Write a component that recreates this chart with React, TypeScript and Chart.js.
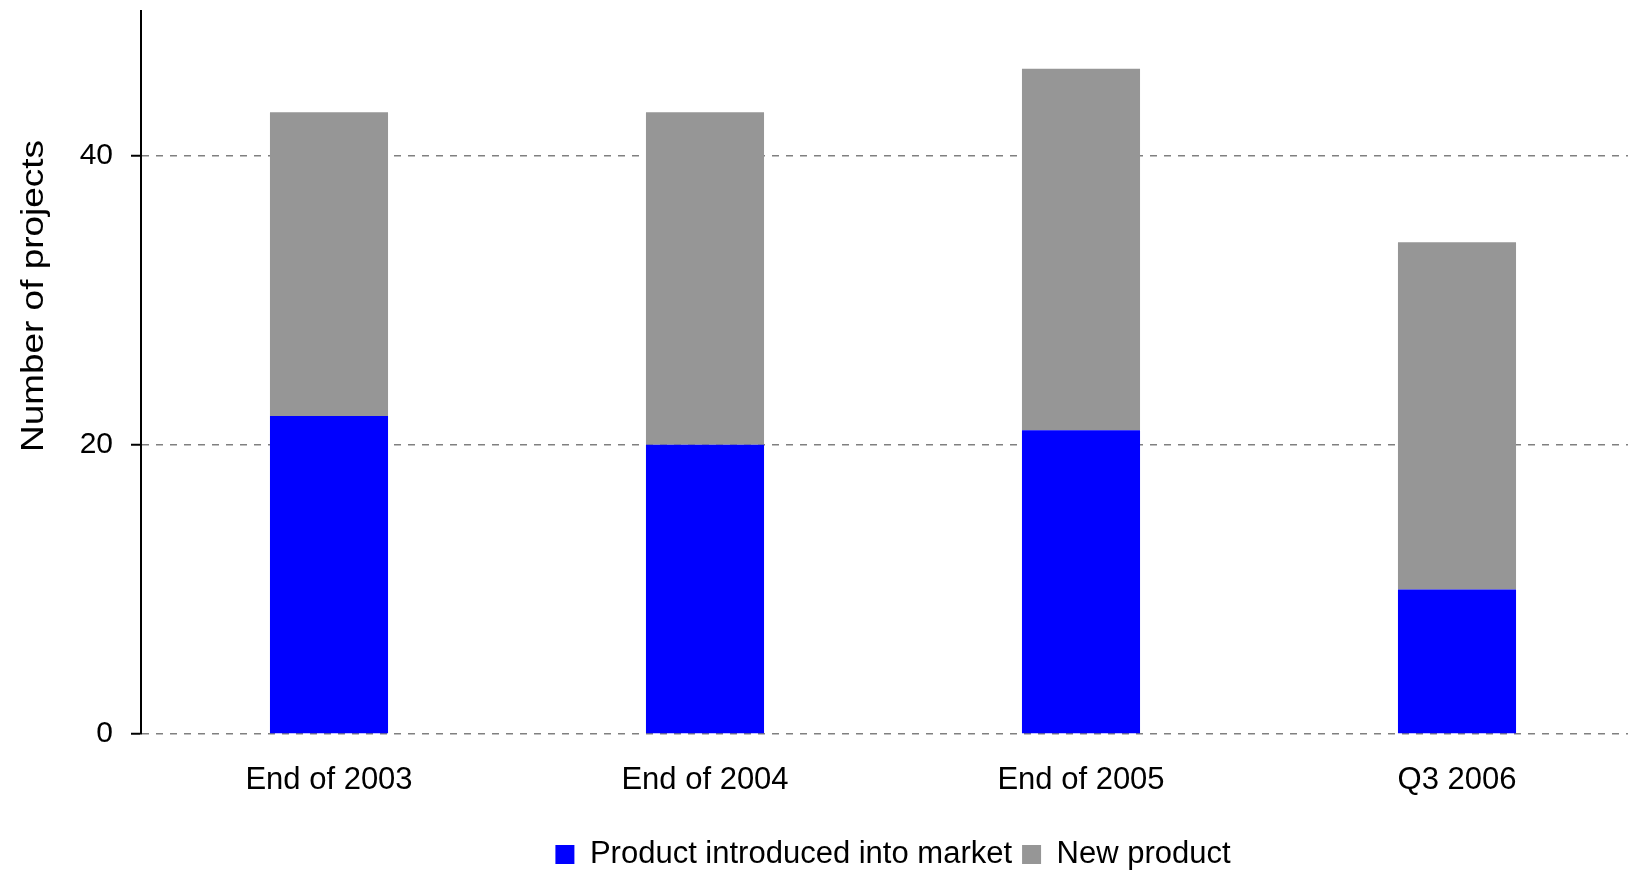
import React, { useEffect, useRef } from "react";
import { Chart, registerables } from "chart.js";

Chart.register(...registerables);

const categories = ["End of 2003", "End of 2004", "End of 2005", "Q3 2006"];
const introducedValues = [22, 20, 21, 10];
const newProductValues = [21, 23, 25, 24];
const yTickValues = [0, 20, 40];
const yAxisTitle = "Number of projects";
const seriesNames = ["Product introduced into market", "New product"];

const FONT = "'Liberation Sans', Arial, Helvetica, sans-serif";

const yTitlePlugin = {
  id: "yTitlePlugin",
  afterDraw(chart: any) {
    const ctx = chart.ctx;
    ctx.save();
    ctx.font = `32px ${FONT}`;
    const w = ctx.measureText(yAxisTitle).width;
    const sx = 312 / w;
    ctx.translate(43, 296);
    ctx.rotate(-Math.PI / 2);
    ctx.scale(sx, 1);
    ctx.fillStyle = "#000";
    ctx.textAlign = "center";
    ctx.textBaseline = "alphabetic";
    ctx.fillText(yAxisTitle, 0, 0);
    ctx.restore();
  },
};

export default function App() {
  const ref = useRef<HTMLCanvasElement | null>(null);

  useEffect(() => {
    document.body.style.margin = "0";
    document.body.style.overflow = "hidden";
    const canvas = ref.current;
    if (!canvas) return;
    const chart = new Chart(canvas, {
      type: "bar",
      data: {
        labels: categories,
        datasets: [
          {
            label: seriesNames[0],
            data: introducedValues,
            backgroundColor: "#0000FF",
            borderWidth: 0,
          },
          {
            label: seriesNames[1],
            data: newProductValues,
            backgroundColor: "#969696",
            borderWidth: 0,
          },
        ],
      },
      options: {
        animation: false,
        responsive: false,
        maintainAspectRatio: false,
        layout: { padding: { top: 11, right: 0, bottom: 0, left: 0 } },
        datasets: {
          bar: { barPercentage: 0.314, categoryPercentage: 1 },
        },
        scales: {
          x: {
            stacked: true,
            grid: { display: false, drawTicks: false },
            border: { display: false },
            ticks: {
              color: "#000",
              padding: 28,
              font: { family: FONT, size: 31 },
              maxRotation: 0,
            },
            afterFit: (scale: any) => {
              scale.height = 95;
              scale.paddingLeft = 0;
              scale.paddingRight = 0;
            },
          },
          y: {
            stacked: true,
            min: 0,
            max: 50,
            afterBuildTicks: (scale: any) => {
              scale.ticks = yTickValues.map((v) => ({ value: v }));
            },
            grid: {
              color: "#808080",
              lineWidth: 1.5,
              tickColor: "#000",
              tickLength: 10,
              tickWidth: 2,
            },
            border: { display: true, color: "#000", width: 2, dash: [7, 7] },
            ticks: {
              color: "#000",
              padding: 18,
              font: { family: FONT, size: 30 },
            },
            afterFit: (scale: any) => {
              scale.width = 141;
              scale.paddingTop = 0;
              scale.paddingBottom = 0;
            },
          },
        },
        plugins: {
          legend: {
            position: "bottom",
            fullSize: false,
            labels: {
              color: "#000",
              boxWidth: 19,
              boxHeight: 19,
              padding: 10,
              font: { family: FONT, size: 31 },
            },
          },
          tooltip: { enabled: false },
        },
      },
      plugins: [yTitlePlugin],
    });
    return () => chart.destroy();
  }, []);

  return (
    <div style={{ width: 1628, height: 872, position: "relative", overflow: "hidden" }}>
      <canvas ref={ref} width={1645} height={880} style={{ display: "block" }} />
    </div>
  );
}
